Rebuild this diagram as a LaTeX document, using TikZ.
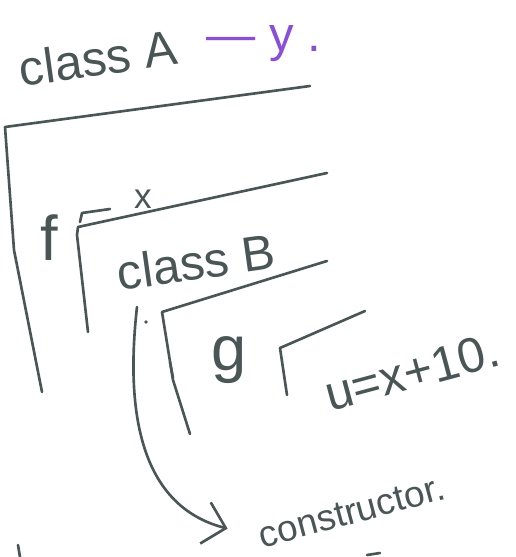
\documentclass[tikz,border=0pt]{standalone}
\usepackage{fontspec}
\setmainfont{Liberation Sans}
\usetikzlibrary{arrows.meta}
\definecolor{ink}{RGB}{74,85,85}
\definecolor{violetpen}{RGB}{138,79,216}

\begin{document}
\begin{tikzpicture}[
  x=0.02cm, y=-0.02cm,
  pen/.style={draw=ink, line width=1.5pt, line cap=round, line join=round},
  note/.style={text=ink, inner sep=0pt, font=\fontsize{28}{30}\selectfont},
  arrow/.style={pen, -{Straight Barb[length=4.2mm, width=8.5mm]}},
]
\useasboundingbox (0,0) rectangle (515,557);

% class A
\node[note, rotate=8] (clsA) at (98,58) {class A};
\node[note, text=violetpen] (ytag) at (264,44) {— y .};
\draw[pen] (310,86) -- (5,127) -- (14,250) -- (42,392);

% f with parameter x
\node[note, font=\fontsize{36}{38}\selectfont] (fname) at (49,238) {f};
\node[note, font=\fontsize{20}{22}\selectfont] (xparam) at (143,199) {x};
\draw[pen] (80,222) -- (82,213) -- (110,209);
\draw[pen] (327,173) -- (78,227) -- (77,235) -- (88,332);

% class B
\node[note, rotate=8] (clsB) at (196,262) {class B};
\draw[pen] (327,261) -- (162,312) -- (173,380) -- (190,434);
\draw[pen] (170,362) -- (173,378);
\fill[ink] (146,322) circle (1.8);

% g
\node[note, font=\fontsize{36}{38}\selectfont] (gname) at (229,360) {g};
\draw[pen] (365,311) -- (280,348) -- (287,395);
\node[note, rotate=15] (ueq) at (412,372) {u=x+10.};

% constructor
\node[note, rotate=15, font=\fontsize{21}{23}\selectfont] (ctor) at (352,512) {constructor.};
\coordinate (bstart) at (137,307);
\draw[arrow, shorten >=6.6mm] (bstart) .. controls (122,440) and (155,510) .. (ctor.west);

% cut-off strokes
\draw[pen] (18,545) -- (20,557);
\draw[pen] (367,555) -- (380,553);
\end{tikzpicture}
\end{document}
